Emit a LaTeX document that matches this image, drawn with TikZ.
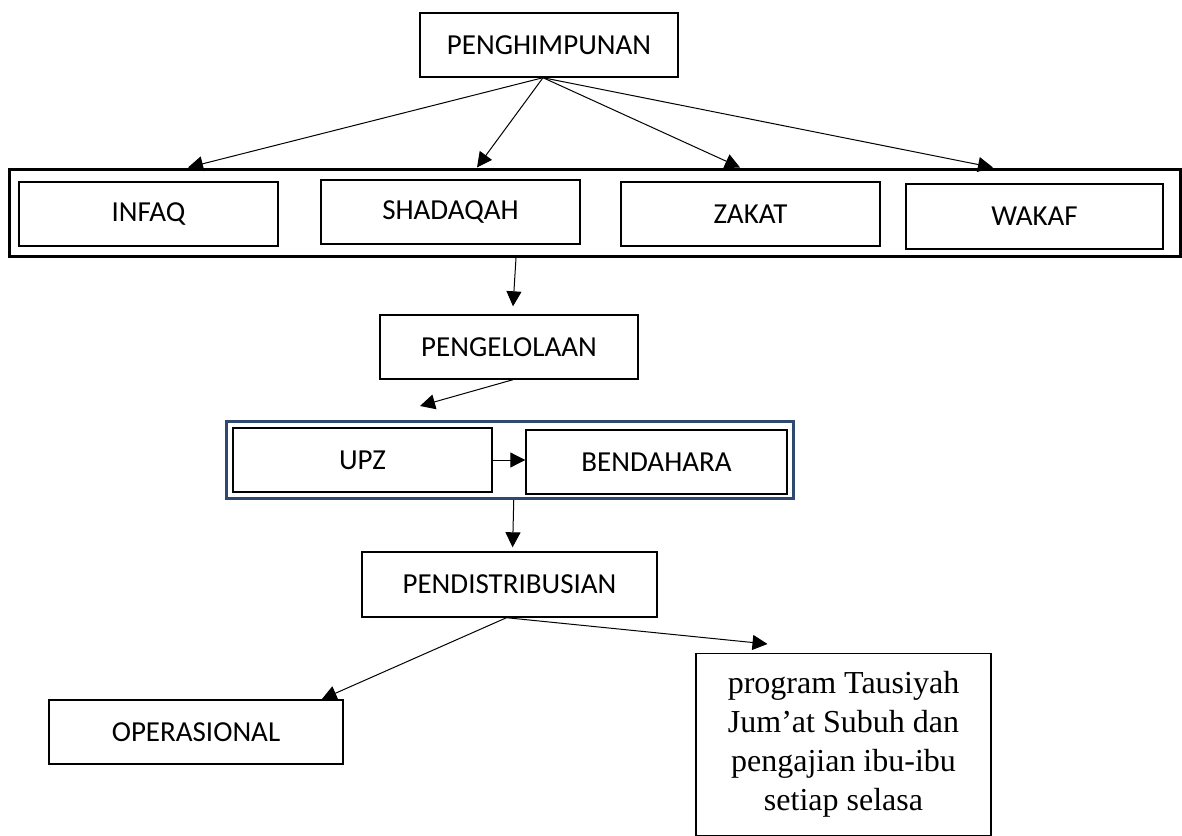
\documentclass[tikz,border=0pt]{standalone}
\usepackage{fontspec}
\setmainfont{Carlito}
\newfontfamily\progfont{Liberation Serif}
\usetikzlibrary{arrows.meta,positioning}

\definecolor{framenavy}{RGB}{46,74,110}

\tikzset{
  box/.style={draw, line width=0.7pt, inner sep=0pt,
    font=\fontsize{14.5}{17}\selectfont},
  frame/.style={draw, line width=1.5pt, inner sep=0pt},
  arr/.style={-{Triangle[length=7.5pt,width=7.5pt]}, line width=0.5pt},
}

\begin{document}
\begin{tikzpicture}[x=0.5pt,y=-0.5pt]
    \useasboundingbox (0,0) rectangle (1182,835);

    % Penghimpunan
    \node[box, minimum width=129pt, minimum height=32pt] (hmp) at (549,45) {PENGHIMPUNAN};

    % Sources of funds
    \node[frame, minimum width=585.25pt, minimum height=43.75pt] (fund) at (594.75,212.75) {};
    \node[box, minimum width=129.5pt, minimum height=32pt] (infaq) at (148.5,214) {INFAQ};
    \node[box, minimum width=129.5pt, minimum height=32pt] (shadaqah) at (450.5,212) {SHADAQAH};
    \node[box, minimum width=129.5pt, minimum height=32pt] (zakat) at (750.5,214) {ZAKAT};
    \node[box, minimum width=128.5pt, minimum height=32.5pt] (wakaf) at (1034.5,216.5) {WAKAF};

    \coordinate (toInfaq) at (188,0 |- fund.north);
    \coordinate (toShadaqah) at (477,0 |- fund.north);
    \coordinate (toZakat) at (740,0 |- fund.north);
    \coordinate (toWakaf) at (993,0 |- fund.north);

    \draw[arr] ([xshift=-3pt]hmp.south) -- (toInfaq);
    \draw[arr] ([xshift=-3pt]hmp.south) -- (toShadaqah);
    \draw[arr] ([xshift=-3pt]hmp.south) -- (toZakat);
    \draw[arr] ([xshift=-3pt]hmp.south) -- (toWakaf);

    % Pengelolaan
    \node[box, minimum width=129pt, minimum height=32pt] (peng) at (509,347) {PENGELOLAAN};
    \coordinate (fundOut) at (516,0 |- fund.south);
    \draw[arr] (fundOut) -- ([xshift=2pt,yshift=4pt]peng.north);

    % UPZ and Bendahara
    \node[frame, draw=framenavy, minimum width=283.25pt, minimum height=38.75pt] (mgmt) at (509.75,459.75) {};
    \node[box, minimum width=129.5pt, minimum height=32pt] (upz) at (362.5,460) {UPZ};
    \node[box, minimum width=130.5pt, minimum height=32pt] (bend) at (656.5,462) {BENDAHARA};
    \coordinate (toMgmt) at (420,406);
    \draw[arr] ([xshift=2pt]peng.south) -- (toMgmt);
    \draw[arr] (upz.east) -- (bend.west |- upz.east);

    % Pendistribusian
    \node[box, minimum width=147.5pt, minimum height=32.5pt] (dist) at (509.5,584.5) {PENDISTRIBUSIAN};
    \draw[arr, shorten >=2pt] ([xshift=2pt]mgmt.south) -- ([xshift=1.5pt]dist.north);

    \node[box, minimum width=147pt, minimum height=32pt] (oper) at (196,732) {OPERASIONAL};
    \node[draw, line width=0.7pt, minimum width=147.5pt, inner xsep=0pt, inner ysep=9pt,
      align=center, anchor=north, font=\progfont\fontsize{16}{19.5}\selectfont]
      (prog) at (843.5,653) {program Tausiyah\\Jum’at Subuh dan\\pengajian ibu-ibu\\setiap selasa};

    \draw[arr] ([xshift=-1.5pt]dist.south) -- ([xshift=-11pt]oper.north east);
    \draw[arr] ([xshift=-1.5pt]dist.south) -- ([xshift=-38pt,yshift=4.5pt]prog.north);
\end{tikzpicture}
\end{document}
